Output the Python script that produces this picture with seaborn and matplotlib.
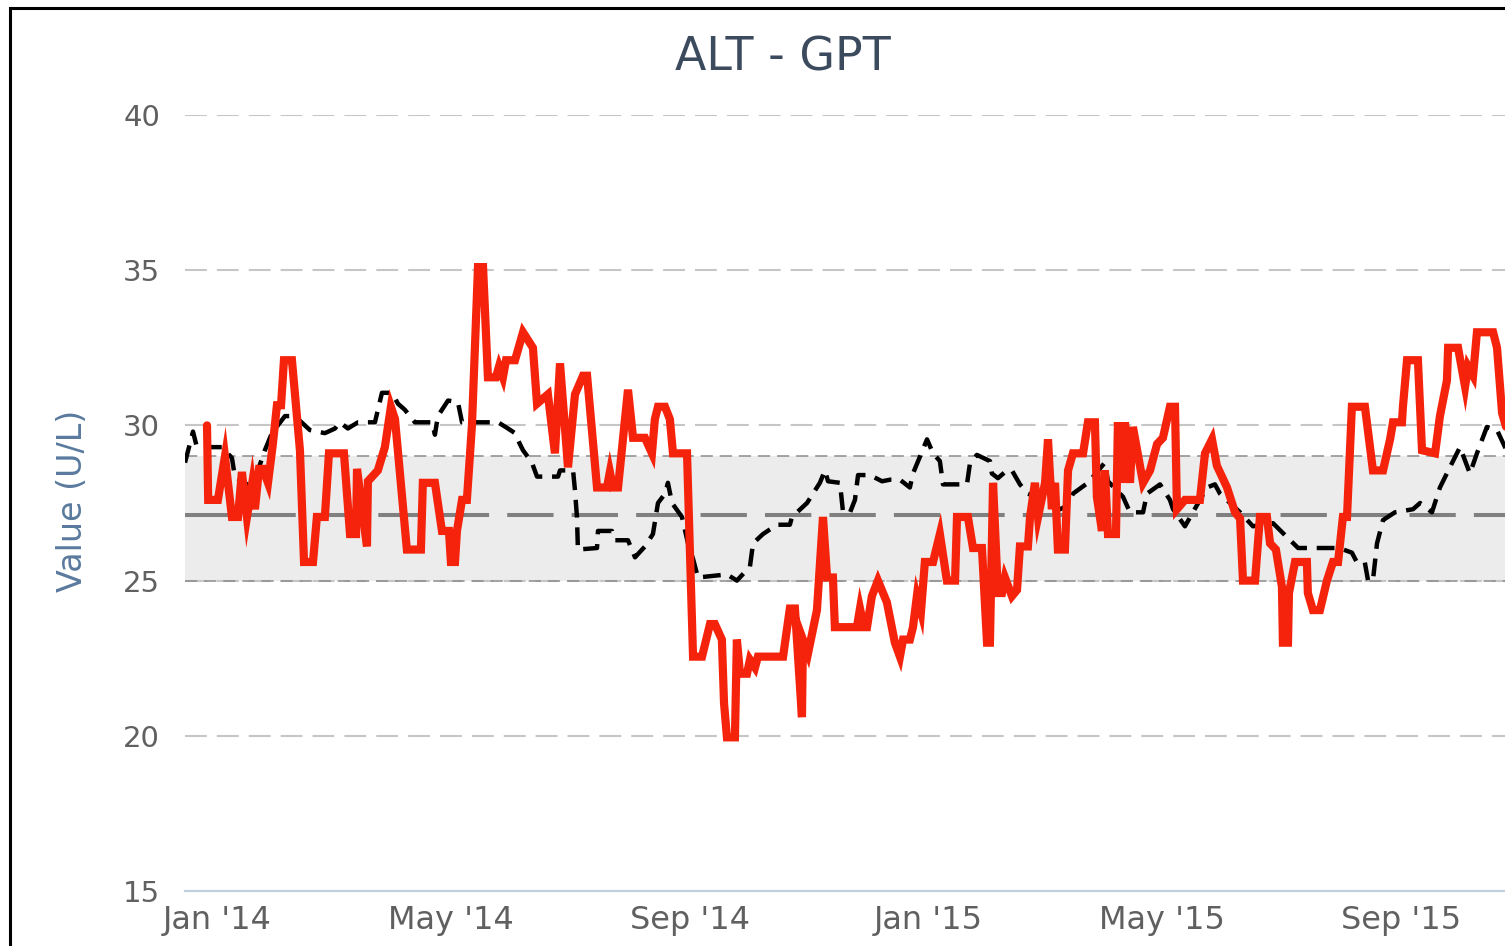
import matplotlib
matplotlib.use('Agg')
import matplotlib.pyplot as plt
import matplotlib.dates as mdates
from matplotlib.patches import Rectangle
import seaborn as sns
import pandas as pd

# ALT (red) - readings, days counted from 2014-01-01
alt_days = [-5.1, -4.5, 0.5, 4.1, 7.7, 10.8, 12.8, 15.4, 18.0, 19.5, 21.6, 23.6, 26.2,
            28.7, 30.8, 32.9, 34.4, 38.5, 42.6, 44.7, 49.3, 51.3, 55.4, 57.5, 65.2,
            68.3, 71.4, 71.9, 77.0, 77.5, 82.6, 86.2, 89.3, 91.4, 97.5, 104.7, 105.7,
            111.9, 115.5, 119.1, 120.1, 122.2, 123.2, 125.8, 128.3, 130.9, 134.0,
            136.6, 139.1, 143.2, 144.8, 146.8, 148.4, 153.0, 157.1, 160.7, 162.2,
            164.3, 169.9, 173.5, 176.1, 180.2, 183.8, 187.9, 190.0, 195.1, 200.2,
            201.7, 203.3, 205.9, 211.0, 213.6, 219.7, 223.3, 224.8, 226.4, 230.0,
            232.5, 234.1, 241.3, 244.4, 249.0, 253.1, 255.6, 259.2, 260.3, 261.8,
            265.9, 266.9, 268.5, 272.1, 273.6, 276.2, 277.7, 290.6, 294.1, 296.7,
            300.3, 300.8, 303.4, 308.0, 311.1, 313.2, 316.2, 317.2, 328.5, 330.1,
            332.1, 333.7, 336.2, 339.3, 343.9, 348.0, 350.6, 352.2, 355.7, 357.3,
            359.3, 361.4, 363.4, 367.6, 371.1, 374.7, 378.9, 379.9, 385.5, 388.1,
            392.7, 395.3, 396.8, 398.4, 400.9, 403.0, 404.5, 408.1, 410.7, 412.2,
            416.3, 417.4, 419.9, 421.5, 425.1, 426.6, 428.6, 430.2, 431.7, 435.3,
            436.9, 439.4, 444.6, 447.1, 450.7, 451.7, 454.3, 455.8, 457.4, 461.5,
            462.5, 464.6, 466.1, 468.7, 470.2, 475.4, 479.0, 482.6, 485.6, 489.2,
            491.8, 492.8, 496.9, 504.6, 507.2, 510.8, 513.3, 518.5, 522.6, 525.2,
            526.7, 532.9, 535.4, 539.0, 540.6, 543.6, 546.7, 547.2, 549.8, 550.3,
            553.4, 559.5, 560.0, 562.6, 566.2, 569.8, 572.9, 575.5, 578.0, 580.1,
            582.6, 589.3, 593.4, 598.6, 602.2, 603.7, 608.3, 608.8, 610.9, 616.5,
            618.6, 625.3, 627.8, 631.4, 632.0, 637.1, 640.7, 642.2, 644.8, 646.8,
            655.1, 657.1, 659.7, 663.8]
alt_vals = [30.0, 27.6, 27.6, 29.0, 27.05, 27.05, 28.5, 27.05, 28.1, 27.3, 28.6, 28.6, 28.15,
            29.4, 30.65, 30.65, 32.1, 32.1, 29.2, 25.6, 25.6, 27.05, 27.05, 29.1, 29.1,
            26.5, 26.5, 28.6, 26.1, 28.2, 28.55, 29.3, 30.6, 30.2, 26.0, 26.0, 28.15,
            28.15, 26.6, 26.6, 25.6, 25.6, 26.6, 27.6, 27.6, 30.0, 35.1,
            35.1, 31.55, 31.55, 31.9, 31.55, 32.1, 32.1, 33.0, 32.65, 32.5,
            30.7, 31.0, 29.1, 32.0, 28.65, 31.0, 31.6, 31.6, 28.0, 28.0,
            28.5, 28.0, 28.0, 31.15, 29.6, 29.6, 29.1, 30.2, 30.6, 30.6,
            30.2, 29.1, 29.1, 22.55, 22.55, 23.6, 23.6, 23.1, 21.05, 19.95,
            19.95, 23.1, 22.0, 22.0, 22.45, 22.2, 22.55, 22.55, 24.1, 24.1,
            20.6, 23.1, 22.65, 24.05, 27.05, 25.1, 25.1, 23.5, 23.5, 24.1,
            23.5, 23.5, 24.5, 25.0, 24.3, 23.0, 22.55, 23.1, 23.1, 23.5,
            24.5, 24.0, 25.6, 25.6, 26.5, 25.0, 25.0, 27.05, 27.05, 26.05,
            26.05, 23.0, 23.0, 28.15, 24.6, 24.6, 25.1, 24.5, 24.7, 26.1,
            26.1, 27.05, 28.15, 27.05, 28.15, 29.55, 27.3, 28.15, 26.0, 26.0,
            28.55, 29.1, 29.1, 30.1, 30.1, 27.7, 26.6, 28.55, 26.5, 26.5,
            30.1, 28.15, 30.1, 28.15, 29.95, 28.15, 28.55, 29.4, 29.6, 30.6,
            30.6, 27.3, 27.6, 27.6, 29.1, 29.55, 28.7, 28.0, 27.2, 27.0,
            25.0, 25.0, 27.05, 27.05, 26.2, 26.0, 24.8, 23.0, 23.0, 24.6,
            25.6, 25.6, 24.6, 24.05, 24.05, 25.0, 25.6, 25.6, 27.05, 27.05,
            30.6, 30.6, 28.55, 28.55, 29.55, 30.1, 30.1, 30.6, 32.1, 32.1,
            29.2, 29.1, 30.3, 31.45, 32.5, 32.5, 31.25, 31.9, 31.6, 33.0,
            33.0, 32.5, 30.4, 29.5]

# moving average (black dashed)
avg_days = [-16.4, -12.3, -10.3, 2.6, 7.7, 9.2, 18.0, 24.6, 28.2, 34.9, 40.0, 47.7, 55.4,
            60.6, 63.1, 67.2, 72.4, 81.1, 84.7, 89.8, 92.9, 96.5, 101.6, 110.4, 111.9,
            113.4, 118.6, 123.7, 125.8, 144.3, 149.4, 153.0, 155.5, 157.1, 161.7,
            164.3, 175.1, 176.1, 182.8, 183.8, 184.8, 185.3, 195.1, 195.6, 202.8,
            204.3, 211.0, 214.6, 219.7, 223.8, 226.4, 230.0, 231.5, 233.6, 238.7,
            241.8, 244.4, 246.9, 261.8, 266.9, 273.6, 275.2, 280.3, 287.5, 294.1,
            295.2, 302.9, 309.5, 312.1, 313.7, 319.8, 321.4, 325.0, 327.5, 329.1,
            335.2, 341.4, 345.5, 350.6, 355.7, 357.3, 364.5, 367.6, 371.1, 372.7,
            385.0, 386.6, 390.1, 396.8, 397.8, 400.9, 405.5, 408.1, 412.2, 416.3,
            425.1, 432.8, 436.3, 439.4, 447.1, 455.8, 457.4, 465.1, 468.7, 475.4,
            477.4, 484.1, 489.2, 490.8, 496.9, 501.0, 508.2, 512.3, 514.9, 525.2,
            531.8, 542.1, 549.3, 555.0, 576.0, 582.6, 585.1, 589.2, 590.9, 593.4,
            595.5, 598.6, 604.7, 614.0, 617.6, 623.7, 627.8, 632.9, 638.1, 643.2,
            646.8, 651.9, 657.1, 661.2, 664.8]
avg_vals = [28.8, 29.8, 29.3, 29.3, 28.95, 28.35, 28.0, 29.2, 29.75, 30.3, 30.3, 29.85, 29.75,
            29.9, 30.1, 29.9, 30.1, 30.1, 31.05, 31.05, 30.7, 30.5, 30.1, 30.1, 29.7,
            30.3, 30.8, 30.75, 30.1, 30.1, 29.9, 29.75, 29.4, 29.2, 28.8,
            28.35, 28.35, 28.55, 28.55, 27.9, 27.05, 26.0, 26.05, 26.6, 26.6,
            26.3, 26.3, 25.75, 26.1, 26.5, 27.5, 27.8, 28.15, 27.5, 27.05,
            26.2, 25.7, 25.1, 25.2, 25.0, 25.45, 26.2, 26.5, 26.8, 26.8,
            27.05, 27.5, 28.15, 28.55, 28.2, 28.15, 27.2, 27.2, 27.6, 28.4,
            28.4, 28.2, 28.25, 28.25, 28.0, 28.45, 29.55, 29.1, 28.85, 28.1,
            28.1, 28.8, 29.05, 28.85, 28.45, 28.3, 28.55, 28.55, 28.1, 27.8,
            27.6, 27.3, 27.4, 27.8, 28.15, 28.8, 28.2, 27.7, 27.2, 27.2,
            27.8, 28.1, 27.6, 27.3, 26.75, 27.2, 28.0, 28.1, 27.8, 27.2,
            26.75, 26.85, 26.4, 26.05, 26.05, 25.9, 25.6, 25.6, 25.0, 25.0,
            26.2, 26.95, 27.2, 27.3, 27.5, 27.2, 28.0, 28.65, 29.3, 28.45,
            29.1, 29.95, 29.85, 29.3, 29.0]

ref_low, ref_high, ref_mid = 25, 29, 27.1
y_ticks = [15, 20, 25, 30, 35, 40]

start = pd.Timestamp('2014-01-01')
alt = pd.DataFrame({'date': start + pd.to_timedelta(alt_days, unit='D'), 'value': alt_vals})
avg = pd.DataFrame({'date': start + pd.to_timedelta(avg_days, unit='D'), 'value': avg_vals})

sns.set_theme(style='white')
plt.rcParams['font.family'] = ['DejaVu Sans']

W, H = 1505, 946
fig = plt.figure(figsize=(W / 100, H / 100), dpi=100)
ax = fig.add_axes([185 / W, 1 - 891 / H, 1 - 185 / W, (891 - 115) / H])

# reference band
ax.axhspan(ref_low, ref_high, color='#ececec', lw=0, zorder=0.3)
for y in (ref_low, ref_high):
    ln = ax.axhline(y, color='#8c8c8c', lw=1.1, zorder=1)
    ln.set_dashes((8, 4.5))
mid = ax.axhline(ref_mid, color='#808080', lw=2.9, zorder=1.2)
mid.set_dashes((11.5, 4.5))

sns.lineplot(data=avg, x='date', y='value', ax=ax, color='black', lw=3.2,
             estimator=None, sort=False, zorder=3)
ax.lines[-1].set_dashes((4.0, 2.2))
sns.lineplot(data=alt, x='date', y='value', ax=ax, color='#f5230c', lw=5.9,
             estimator=None, sort=False, zorder=4)
ax.lines[-1].set_solid_joinstyle('miter')

ax.set_ylim(15, 40)
ax.set_xlim(start - pd.Timedelta(days=16.4), start + pd.Timedelta(days=661.2))
ax.set_yticks(y_ticks)
ax.xaxis.set_major_locator(mdates.MonthLocator(bymonth=[1, 5, 9]))
ax.xaxis.set_major_formatter(mdates.DateFormatter("%b '%y"))

ax.grid(axis='y', color='#c6c6c6', lw=1.5)
ax.set_axisbelow(True)
for g in ax.get_ygridlines():
    g.set_dashes((10.5, 4.8))
ax.get_ygridlines()[0].set_visible(False)

for s in ['top', 'right', 'left']:
    ax.spines[s].set_visible(False)
ax.spines['bottom'].set_color('#c0d0e0')
ax.spines['bottom'].set_linewidth(1.6)

ax.tick_params(axis='y', length=0, pad=18, labelsize=21, labelcolor='#606060')
ax.tick_params(axis='x', length=8, width=1.2, color='#c0d0e0', direction='out',
               pad=2, labelsize=23, labelcolor='#606060')
ax.set_xlabel('')
ax.set_ylabel('')

fig.text(72 / W, 1 - 501 / H, 'Value (U/L)', rotation=90, ha='center', va='center',
         fontsize=24, color='#5a7a9e')
fig.text(783 / W, 1 - 58 / H, 'ALT - GPT', ha='center', va='center',
         fontsize=33, color='#3c4a5e')

# outer frame of the screenshot
fig.patches.append(Rectangle((10 / W, -0.1), 1.2, 1.1 - 8 / H, transform=fig.transFigure,
                             fill=False, edgecolor='black', lw=2.2))

fig.savefig('out.png', dpi=100)
